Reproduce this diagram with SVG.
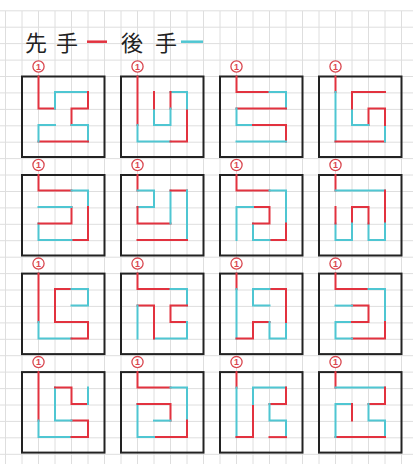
<svg xmlns="http://www.w3.org/2000/svg" width="413" height="464" viewBox="0 0 413 464">
<style>
.grid line{stroke:#dedede;stroke-width:1}
.box{fill:none;stroke:#222;stroke-width:2}
.r{fill:none;stroke:#e2323f;stroke-width:2;stroke-linecap:square;stroke-linejoin:miter}
.c{fill:none;stroke:#4fc6d2;stroke-width:2;stroke-linecap:square;stroke-linejoin:miter}
.mk{fill:#fff;stroke:#d9474f;stroke-width:1.3}
.mt{fill:#d9474f;font-family:"Liberation Sans",sans-serif;font-size:9px;font-weight:bold;text-anchor:middle}
.ttl{fill:#222;font-family:"Noto Sans CJK JP",sans-serif;font-size:22px}
</style>
<defs>
<g id="frame">
<rect class="box" x="0" y="0" width="82.5" height="80.5"/>
<circle class="mk" cx="16.5" cy="-10" r="5.6"/>
<text class="mt" x="16.5" y="-6.8">1</text>
</g>
</defs>
<rect width="413" height="464" fill="#fff"/>
<g class="grid">
<line x1="5.5" y1="10.9" x2="5.5" y2="464"/><line x1="22" y1="10.9" x2="22" y2="464"/><line x1="38.5" y1="10.9" x2="38.5" y2="464"/><line x1="55" y1="10.9" x2="55" y2="464"/><line x1="71.5" y1="10.9" x2="71.5" y2="464"/><line x1="88" y1="10.9" x2="88" y2="464"/><line x1="104.5" y1="10.9" x2="104.5" y2="464"/><line x1="121" y1="10.9" x2="121" y2="464"/><line x1="137.5" y1="10.9" x2="137.5" y2="464"/><line x1="154" y1="10.9" x2="154" y2="464"/><line x1="170.5" y1="10.9" x2="170.5" y2="464"/><line x1="187" y1="10.9" x2="187" y2="464"/><line x1="203.5" y1="10.9" x2="203.5" y2="464"/><line x1="220" y1="10.9" x2="220" y2="464"/><line x1="236.5" y1="10.9" x2="236.5" y2="464"/><line x1="253" y1="10.9" x2="253" y2="464"/><line x1="269.5" y1="10.9" x2="269.5" y2="464"/><line x1="286" y1="10.9" x2="286" y2="464"/><line x1="302.5" y1="10.9" x2="302.5" y2="464"/><line x1="319" y1="10.9" x2="319" y2="464"/><line x1="335.5" y1="10.9" x2="335.5" y2="464"/><line x1="352" y1="10.9" x2="352" y2="464"/><line x1="368.5" y1="10.9" x2="368.5" y2="464"/><line x1="385" y1="10.9" x2="385" y2="464"/><line x1="401.5" y1="10.9" x2="401.5" y2="464"/>
<line x1="0" y1="10.8" x2="413" y2="10.8"/><line x1="0" y1="27.2" x2="413" y2="27.2"/><line x1="0" y1="43.6" x2="413" y2="43.6"/><line x1="0" y1="60.1" x2="413" y2="60.1"/><line x1="0" y1="76.5" x2="413" y2="76.5"/><line x1="0" y1="92.9" x2="413" y2="92.9"/><line x1="0" y1="109.4" x2="413" y2="109.4"/><line x1="0" y1="125.8" x2="413" y2="125.8"/><line x1="0" y1="142.2" x2="413" y2="142.2"/><line x1="0" y1="158.6" x2="413" y2="158.6"/><line x1="0" y1="175" x2="413" y2="175"/><line x1="0" y1="191.5" x2="413" y2="191.5"/><line x1="0" y1="207.9" x2="413" y2="207.9"/><line x1="0" y1="224.3" x2="413" y2="224.3"/><line x1="0" y1="240.7" x2="413" y2="240.7"/><line x1="0" y1="257.2" x2="413" y2="257.2"/><line x1="0" y1="273.6" x2="413" y2="273.6"/><line x1="0" y1="290" x2="413" y2="290"/><line x1="0" y1="306.4" x2="413" y2="306.4"/><line x1="0" y1="322.9" x2="413" y2="322.9"/><line x1="0" y1="339.3" x2="413" y2="339.3"/><line x1="0" y1="355.7" x2="413" y2="355.7"/><line x1="0" y1="372.1" x2="413" y2="372.1"/><line x1="0" y1="388.6" x2="413" y2="388.6"/><line x1="0" y1="405" x2="413" y2="405"/><line x1="0" y1="421.4" x2="413" y2="421.4"/><line x1="0" y1="437.8" x2="413" y2="437.8"/><line x1="0" y1="454.3" x2="413" y2="454.3"/>
</g>
<g id="legend">
<text class="ttl" x="25" y="51" letter-spacing="9">先手</text>
<line x1="87" y1="41.7" x2="107" y2="41.7" stroke="#e2323f" stroke-width="2.5"/>
<text class="ttl" x="121" y="51" letter-spacing="12">後手</text>
<line x1="181" y1="41.7" x2="203" y2="41.7" stroke="#4fc6d2" stroke-width="2.5"/>
</g>
<g id="b11" transform="translate(22 76.5)"><use href="#frame"/>
<path class="r" d="M16.5 0V32H33"/><path class="c" d="M33 32V15.5H66"/><path class="r" d="M66 15.5V32H49.5V48.5"/><path class="c" d="M49.5 48.5H66V65"/><path class="r" d="M66 65H16.5"/><path class="c" d="M16.5 65V48.5H33"/></g>
<g id="b12" transform="translate(121 76.5)"><use href="#frame"/>
<path class="r" d="M16.5 0V48.5"/><path class="c" d="M16.5 48.5V65H49.5"/><path class="r" d="M49.5 65H66V32"/><path class="c" d="M66 32V15.5H49.5"/><path class="r" d="M49.5 15.5V32"/><path class="c" d="M49.5 32V48.5H33V32"/><path class="r" d="M33 32V15.5"/></g>
<g id="b13" transform="translate(220 76.5)"><use href="#frame"/>
<path class="r" d="M16.5 0V15.5H49.5"/><path class="c" d="M49.5 15.5H66V32"/><path class="r" d="M66 32H16.5"/><path class="c" d="M16.5 32V48.5H33"/><path class="r" d="M33 48.5H66V65"/><path class="c" d="M66 65H16.5"/></g>
<g id="b14" transform="translate(319 76.5)"><use href="#frame"/>
<path class="r" d="M16.5 0V15.5"/><path class="c" d="M16.5 15.5V65"/><path class="r" d="M16.5 65H66"/><path class="c" d="M66 65V48.5"/><path class="r" d="M66 48.5V32H49.5V48.5"/><path class="c" d="M49.5 48.5H33V32"/><path class="r" d="M33 32V15.5H66"/></g>
<g id="b21" transform="translate(22 175)"><use href="#frame"/>
<path class="r" d="M16.5 0V15.5H49.5"/><path class="c" d="M49.5 15.5H66V32"/><path class="r" d="M66 32V65H49.5"/><path class="c" d="M49.5 65H16.5V48.5"/><path class="r" d="M16.5 48.5H49.5V32"/><path class="c" d="M49.5 32H16.5"/></g>
<g id="b22" transform="translate(121 175)"><use href="#frame"/>
<path class="r" d="M16.5 0V15.5"/><path class="c" d="M16.5 15.5H33V32H16.5"/><path class="r" d="M16.5 32V48.5H49.5"/><path class="c" d="M49.5 48.5V15.5"/><path class="r" d="M49.5 15.5H66"/><path class="c" d="M66 15.5V65"/><path class="r" d="M66 65H16.5"/></g>
<g id="b23" transform="translate(220 175)"><use href="#frame"/>
<path class="r" d="M16.5 0V15.5H49.5"/><path class="c" d="M49.5 15.5H66V48.5"/><path class="r" d="M66 48.5V65H49.5"/><path class="c" d="M49.5 65H33V48.5"/><path class="r" d="M33 48.5H49.5V32H33"/><path class="c" d="M33 32H16.5V65"/></g>
<g id="b24" transform="translate(319 175)"><use href="#frame"/>
<path class="r" d="M16.5 0V15.5"/><path class="c" d="M16.5 15.5H66"/><path class="r" d="M66 15.5V48.5"/><path class="c" d="M66 48.5V65H49.5V48.5"/><path class="r" d="M49.5 48.5V32H33V48.5"/><path class="c" d="M33 48.5V65H16.5V48.5"/><path class="r" d="M16.5 48.5V32"/></g>
<g id="b31" transform="translate(22 273.6)"><use href="#frame"/>
<path class="r" d="M16.5 0V48.5"/><path class="c" d="M16.5 48.5V65H49.5"/><path class="r" d="M49.5 65H66V48.5H33V15.5H49.5"/><path class="c" d="M49.5 15.5H66V32H49.5"/></g>
<g id="b32" transform="translate(121 273.6)"><use href="#frame"/>
<path class="r" d="M16.5 0V15.5H49.5"/><path class="c" d="M49.5 15.5H66V32"/><path class="r" d="M66 32H49.5V48.5H66"/><path class="c" d="M66 48.5V65H33"/><path class="r" d="M33 65V32H16.5"/><path class="c" d="M16.5 32V65"/></g>
<g id="b33" transform="translate(220 273.6)"><use href="#frame"/>
<path class="r" d="M16.5 0V15.5"/><path class="c" d="M16.5 15.5V65"/><path class="r" d="M16.5 65H33V48.5H49.5"/><path class="c" d="M49.5 48.5V65H66V48.5"/><path class="r" d="M66 48.5V15.5H49.5"/><path class="c" d="M49.5 15.5H33V32H49.5"/></g>
<g id="b34" transform="translate(319 273.6)"><use href="#frame"/>
<path class="r" d="M16.5 0V15.5H49.5"/><path class="c" d="M49.5 15.5H66V48.5"/><path class="r" d="M66 48.5V65H33"/><path class="c" d="M33 65H16.5V48.5H33"/><path class="r" d="M33 48.5H49.5V32H33"/><path class="c" d="M33 32H16.5"/></g>
<g id="b41" transform="translate(22 372.1)"><use href="#frame"/>
<path class="r" d="M16.5 0V48.5"/><path class="c" d="M16.5 48.5V65H49.5"/><path class="r" d="M49.5 65H66V48.5H49.5"/><path class="c" d="M49.5 48.5H33V15.5"/><path class="r" d="M33 15.5H49.5V32H66"/><path class="c" d="M66 32V15.5"/></g>
<g id="b42" transform="translate(121 372.1)"><use href="#frame"/>
<path class="r" d="M16.5 0V15.5H49.5"/><path class="c" d="M49.5 15.5H66V48.5"/><path class="r" d="M66 48.5V65H33"/><path class="c" d="M33 65H16.5V32"/><path class="r" d="M16.5 32H49.5V48.5"/><path class="c" d="M49.5 48.5H33"/></g>
<g id="b43" transform="translate(220 372.1)"><use href="#frame"/>
<path class="r" d="M16.5 0V15.5"/><path class="c" d="M16.5 15.5V65"/><path class="r" d="M16.5 65H33V32"/><path class="c" d="M33 32V15.5H66"/><path class="r" d="M66 15.5V32H49.5"/><path class="c" d="M49.5 32V48.5H66V65"/><path class="r" d="M66 65H49.5"/></g>
<g id="b44" transform="translate(319 372.1)"><use href="#frame"/>
<path class="r" d="M16.5 0V15.5"/><path class="c" d="M16.5 15.5H66"/><path class="r" d="M66 15.5V32H49.5"/><path class="c" d="M49.5 32V48.5H66V65"/><path class="r" d="M66 65H16.5"/><path class="c" d="M16.5 65V32H33"/><path class="r" d="M33 32V48.5"/></g>
</svg>
